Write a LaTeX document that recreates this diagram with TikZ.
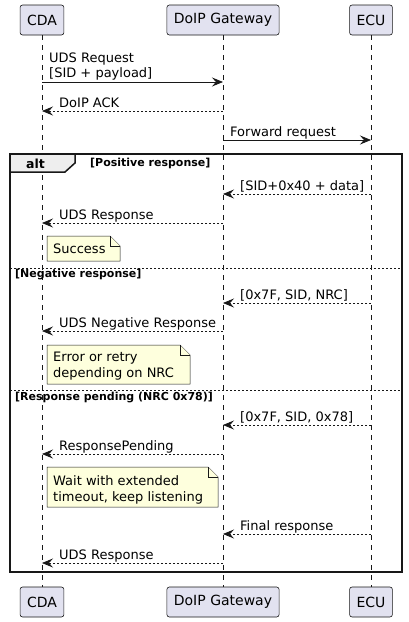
\documentclass[tikz,border=0pt]{standalone}
\usepackage{fontspec}
\setmainfont{DejaVu Sans}
\usepackage{tikz}
\usetikzlibrary{arrows.meta,positioning}
\definecolor{partfill}{HTML}{E2E2F0}
\definecolor{linecol}{HTML}{181818}
\definecolor{notefill}{HTML}{FEFFDD}
\definecolor{tabfill}{HTML}{EEEEEE}

\begin{document}
\begin{tikzpicture}[x=1pt, y=-1pt,
  actor/.style={rectangle, rounded corners=2.5pt, draw=linecol, fill=partfill, line width=0.6pt, minimum height=30pt, inner xsep=7pt, inner ysep=0pt, font=\fontsize{14}{16}\selectfont},
  lifeline/.style={draw=linecol, line width=0.5pt, dash pattern=on 5pt off 5pt},
  msg/.style={draw=linecol, line width=0.8pt, -{Stealth[length=11pt,width=9pt,inset=4pt]}},
  reply/.style={msg, dash pattern=on 2pt off 2pt},
  msgtext/.style={anchor=base west, inner sep=0pt, align=left, font=\fontsize{13}{15}\selectfont},
  notebox/.style={draw=linecol, fill=notefill, line width=0.5pt},
  notetext/.style={anchor=base west, inner sep=0pt, align=left, font=\fontsize{13}{16}\selectfont},
  frame/.style={draw=linecol, line width=1.5pt},
  sep/.style={draw=linecol, line width=0.6pt, dash pattern=on 2pt off 2pt},
  guard/.style={anchor=base west, inner sep=0pt, font=\fontsize{11}{13}\bfseries\selectfont}]
\path[fill=white] (0,0) rectangle (408,622);

\node (cda) at (42, 20) [actor] {CDA};
\node (gw) at (223, 20) [actor] {DoIP Gateway};
\node (ecu) at (371, 20) [actor] {ECU};
\node (cdab) at (42, 602) [actor] {CDA};
\node (gwb) at (223, 602) [actor] {DoIP Gateway};
\node (ecub) at (371, 602) [actor] {ECU};

\draw [lifeline] (cda) -- (cdab);
\draw [lifeline] (gw) -- (gwb);
\draw [lifeline] (ecu) -- (ecub);

\coordinate (c1) at (42, 82);   \coordinate (g1) at (223, 82);
\coordinate (c2) at (42, 111);  \coordinate (g2) at (223, 111);
\coordinate (g3) at (223, 140); \coordinate (e3) at (371, 140);
\coordinate (g4) at (223, 194); \coordinate (e4) at (371, 194);
\coordinate (c5) at (42, 223);  \coordinate (g5) at (223, 223);
\coordinate (g6) at (223, 303); \coordinate (e6) at (371, 303);
\coordinate (c7) at (42, 331);  \coordinate (g7) at (223, 331);
\coordinate (g8) at (223, 425); \coordinate (e8) at (371, 425);
\coordinate (c9) at (42, 454);  \coordinate (g9) at (223, 454);
\coordinate (g10) at (223, 534); \coordinate (e10) at (371, 534);
\coordinate (c11) at (42, 563); \coordinate (g11) at (223, 563);

\draw [frame, fill=tabfill] (10, 154) -- (75, 154) -- (75, 163) -- (65, 172) -- (10, 172) -- cycle;
\draw [frame] (10, 154) rectangle (402, 572);
\draw [sep] (10, 268) -- (402, 268);
\draw [sep] (10, 390) -- (402, 390);
\node (alt) at (26, 168) [guard, font=\fontsize{12.5}{14}\bfseries\selectfont] {alt};
\node (pos) at (90, 166) [guard] {[Positive response]};
\node (neg) at (15, 277) [guard] {[Negative response]};
\node (pend) at (15, 400) [guard] {[Response pending (NRC 0x78)]};

\draw [msg] (c1) -- (g1);
\node (t1) at (49, 77) [msgtext] {UDS Request\\{}[SID + payload]};
\draw [reply] (g2) -- (c2);
\node (t2) at (59, 107) [msgtext] {DoIP ACK};
\draw [msg] (g3) -- (e3);
\node (t3) at (230, 136) [msgtext] {Forward request};
\draw [reply] (e4) -- (g4);
\node (t4) at (240, 190) [msgtext] {[SID+0x40 + data]};
\draw [reply] (g5) -- (c5);
\node (t5) at (59, 219) [msgtext] {UDS Response};
\draw [reply] (e6) -- (g6);
\node (t6) at (240, 299) [msgtext] {[0x7F, SID, NRC]};
\draw [reply] (g7) -- (c7);
\node (t7) at (59, 327) [msgtext] {UDS Negative Response};
\draw [reply] (e8) -- (g8);
\node (t8) at (240, 421) [msgtext] {[0x7F, SID, 0x78]};
\draw [reply] (g9) -- (c9);
\node (t9) at (59, 450) [msgtext] {ResponsePending};
\draw [reply] (e10) -- (g10);
\node (t10) at (240, 530) [msgtext] {Final response};
\draw [reply] (g11) -- (c11);
\node (t11) at (59, 559) [msgtext] {UDS Response};

\draw [notebox] (47, 236) -- (110, 236) -- (120, 246) -- (120, 261) -- (47, 261) -- cycle;
\draw [notebox] (110, 236) -- (110, 246) -- (120, 246);
\node (n1) at (53, 253) [notetext] {Success};
\draw [notebox] (47, 345) -- (180, 345) -- (190, 355) -- (190, 384) -- (47, 384) -- cycle;
\draw [notebox] (180, 345) -- (180, 355) -- (190, 355);
\node (n2) at (53, 377) [notetext] {Error or retry\\depending on NRC};
\draw [notebox] (47, 467) -- (208, 467) -- (218, 477) -- (218, 507) -- (47, 507) -- cycle;
\draw [notebox] (208, 467) -- (208, 477) -- (218, 477);
\node (n3) at (53, 501) [notetext] {Wait with extended\\timeout, keep listening};
\end{tikzpicture}
\end{document}
